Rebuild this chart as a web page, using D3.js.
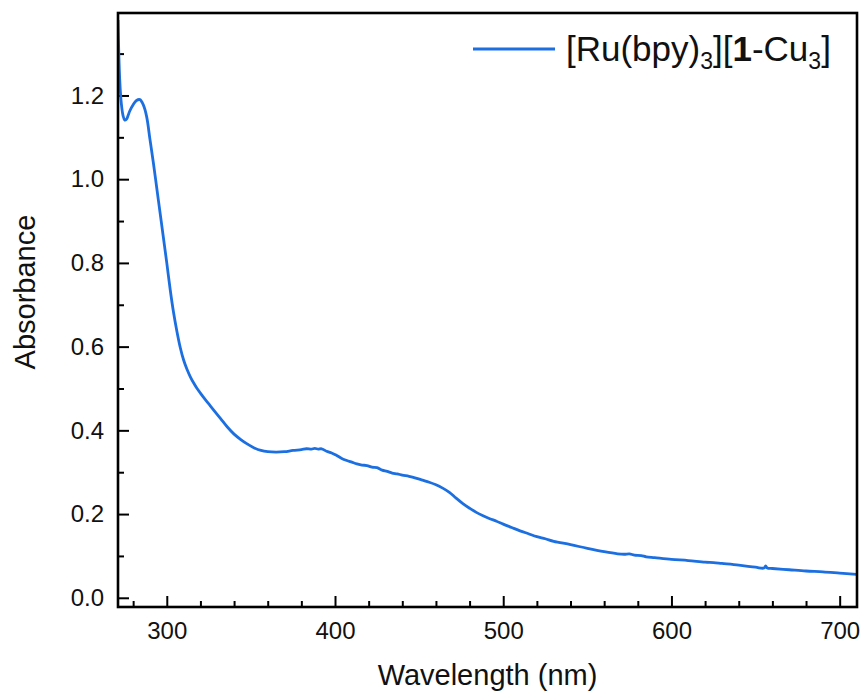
<!DOCTYPE html>
<html>
<head>
<meta charset="utf-8">
<script src="https://cdn.jsdelivr.net/npm/d3@7"></script>
<style>
  body { margin: 0; background: #fff; }
  svg { display: block; font-family: "Liberation Sans", Arial, sans-serif; }
  .frame { fill: none; stroke: #000; stroke-width: 2.6; }
  .tick line { stroke: #000; stroke-width: 2; }
  .domain { display: none; }
  .tick text { font-size: 24px; fill: #111; }
</style>
</head>
<body>
<div id="chart"></div>
<script>
// spectrum (nm, absorbance)
var wavelength = [271, 272, 273, 274, 275, 276, 277, 278, 280, 282, 284, 286, 288, 290, 292, 294, 296, 298, 300,
  302, 304, 306, 308, 310, 312, 314, 316, 318, 320, 322, 325, 328, 332, 336, 340, 344, 348, 352, 356, 360,
  365, 370, 375, 380, 383, 386, 388, 390, 392, 395, 398, 401, 404, 407, 410, 413, 416, 419, 422, 425, 428,
  431, 434, 437, 440, 444, 448, 452, 456, 460, 464, 468, 472, 476, 480, 484, 488, 492, 496, 500, 505, 510,
  515, 520, 525, 530, 540, 550, 560, 568, 572, 575, 578, 582, 585, 590, 600, 610, 620, 625, 630, 640, 650,
  655, 656, 657, 660, 670, 680, 690, 700, 710];
var absorbance = [1.38, 1.24, 1.18, 1.152, 1.141, 1.143, 1.152, 1.163, 1.178, 1.188, 1.19, 1.178, 1.15, 1.095,
  1.04, 0.98, 0.92, 0.86, 0.80, 0.737, 0.682, 0.637, 0.598, 0.568, 0.546, 0.528, 0.513, 0.50, 0.489, 0.478,
  0.463, 0.448, 0.428, 0.408, 0.391, 0.378, 0.367, 0.358, 0.352, 0.349, 0.348, 0.349, 0.352, 0.354, 0.356,
  0.355, 0.357, 0.355, 0.356, 0.350, 0.346, 0.340, 0.333, 0.328, 0.324, 0.320, 0.317, 0.316, 0.312, 0.311,
  0.305, 0.302, 0.298, 0.296, 0.293, 0.290, 0.286, 0.281, 0.276, 0.270, 0.262, 0.252, 0.238, 0.225, 0.214,
  0.204, 0.196, 0.189, 0.183, 0.176, 0.168, 0.160, 0.153, 0.146, 0.141, 0.135, 0.127, 0.118, 0.110, 0.105,
  0.104, 0.105, 0.102, 0.101, 0.098, 0.096, 0.092, 0.089, 0.085, 0.084, 0.082, 0.078, 0.073, 0.071, 0.076,
  0.071, 0.070, 0.067, 0.064, 0.062, 0.059, 0.056];

var xTicks = [300, 400, 500, 600, 700];
var xMinor = [280, 320, 340, 360, 380, 420, 440, 460, 480, 520, 540, 560, 580, 620, 640, 660, 680];
var yTicks = [0, 0.2, 0.4, 0.6, 0.8, 1.0, 1.2];
var yMinor = [0.1, 0.3, 0.5, 0.7, 0.9, 1.1, 1.3];

var width = 867, height = 696;
var margin = { top: 13, right: 10, bottom: 89, left: 118 };
var w = width - margin.left - margin.right,
  h = height - margin.top - margin.bottom;
var lineColor = "#1c6fe0";

var svg = d3.select("#chart").append("svg")
  .attr("width", width)
  .attr("height", height);

var g = svg.append("g")
  .attr("transform", "translate(" + margin.left + "," + margin.top + ")");

var x = d3.scaleLinear().domain([271, 710.3]).range([0, w]);
var y = d3.scaleLinear().domain([-0.022, 1.397]).range([h, 0]);

// clip for the curve
g.append("clipPath").attr("id", "clip")
  .append("rect").attr("width", w).attr("height", h);

// ticks point inwards
g.append("g")
  .attr("transform", "translate(0," + h + ")")
  .call(d3.axisBottom(x).tickValues(xTicks).tickSizeInner(-11).tickSizeOuter(0).tickPadding(15)
    .tickFormat(d3.format("d")));
g.append("g")
  .attr("transform", "translate(0," + h + ")")
  .call(d3.axisBottom(x).tickValues(xMinor).tickSizeInner(-6).tickSizeOuter(0).tickFormat(""));

g.append("g")
  .call(d3.axisLeft(y).tickValues(yTicks).tickSizeInner(-11).tickSizeOuter(0).tickPadding(14)
    .tickFormat(d3.format(".1f")));
g.append("g")
  .call(d3.axisLeft(y).tickValues(yMinor).tickSizeInner(-6).tickSizeOuter(0).tickFormat(""));

var points = wavelength.map(function (d, i) { return [d, absorbance[i]]; });

var line = d3.line()
  .x(function (d) { return x(d[0]); })
  .y(function (d) { return y(d[1]); })
  .curve(d3.curveCatmullRom.alpha(0.5));

g.append("path")
  .datum(points)
  .attr("clip-path", "url(#clip)")
  .attr("fill", "none")
  .attr("stroke", lineColor)
  .attr("stroke-width", 2.8)
  .attr("stroke-linejoin", "round")
  .attr("d", line);

g.append("rect")
  .attr("class", "frame")
  .attr("width", w)
  .attr("height", h);

// axis titles
svg.append("text")
  .attr("x", margin.left + w / 2)
  .attr("y", 685)
  .attr("text-anchor", "middle")
  .style("font-size", "29px")
  .style("fill", "#111")
  .text("Wavelength (nm)");

svg.append("text")
  .attr("transform", "translate(35,292) rotate(-90)")
  .attr("text-anchor", "middle")
  .style("font-size", "29px")
  .style("fill", "#111")
  .text("Absorbance");

// legend
var legend = svg.append("g").attr("transform", "translate(473,49)");
legend.append("line")
  .attr("x1", 0).attr("x2", 82)
  .attr("stroke", lineColor)
  .attr("stroke-width", 3);

var lt = legend.append("text")
  .attr("x", 93)
  .attr("y", 12)
  .style("font-size", "35px")
  .style("fill", "#111");
lt.append("tspan").text("[Ru(bpy)");
lt.append("tspan").attr("dy", 8).style("font-size", "23px").text("3");
lt.append("tspan").attr("dy", -8).text("][");
lt.append("tspan").style("font-weight", "bold").text("1");
lt.append("tspan").text("-Cu");
lt.append("tspan").attr("dy", 8).style("font-size", "23px").text("3");
lt.append("tspan").attr("dy", -8).text("]");
</script>
</body>
</html>
